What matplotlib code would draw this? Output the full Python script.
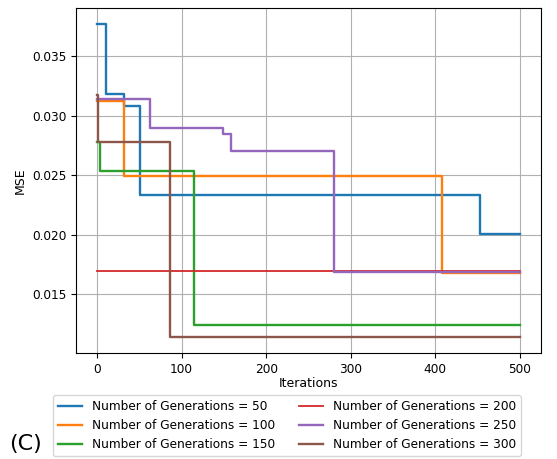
import matplotlib.pyplot as plt

# breakpoints (iteration, MSE) for each step curve
gens = [50, 100, 150, 200, 250, 300]

x50 = [0, 11, 32, 51, 453, 500]
y50 = [0.03775, 0.03181, 0.0308, 0.02332, 0.0201, 0.0201]

x100 = [0, 32, 408, 500]
y100 = [0.03124, 0.02492, 0.01682, 0.01682]

x150 = [0, 4, 114, 500]
y150 = [0.0278, 0.02536, 0.0124, 0.0124]

x200 = [0, 500]
y200 = [0.01698, 0.01698]

x250 = [0, 62, 149, 158, 280, 500]
y250 = [0.03138, 0.02897, 0.0285, 0.02704, 0.01693, 0.01693]

x300 = [0, 1, 86, 500]
y300 = [0.03172, 0.0278, 0.0114, 0.0114]

series = [(x50, y50), (x100, y100), (x150, y150),
          (x200, y200), (x250, y250), (x300, y300)]

fig = plt.figure(figsize=(5.57, 4.59), dpi=100)
ax = fig.add_axes([0.1364, 0.2309, 0.8349, 0.7517])

for g, (xs, ys) in zip(gens, series):
    lw = 1.3 if g == 200 else 1.7
    ax.plot(xs, ys, drawstyle='steps-post', lw=lw,
            label='Number of Generations = %d' % g)

ax.grid(True)
ax.set_xticks([0, 100, 200, 300, 400, 500])
ax.set_yticks([0.015, 0.020, 0.025, 0.030, 0.035])
ax.tick_params(labelsize=8.7)
ax.set_xlabel('Iterations', fontsize=9, labelpad=1)
ax.set_ylabel('MSE', fontsize=9)

fig.legend(loc='upper left', bbox_to_anchor=(0.095, 0.139), ncol=2,
           fontsize=8.7, frameon=True, borderaxespad=0)
fig.text(0.016, 0.02, '(C)', fontsize=16)

fig.savefig('out.png', dpi=100)
